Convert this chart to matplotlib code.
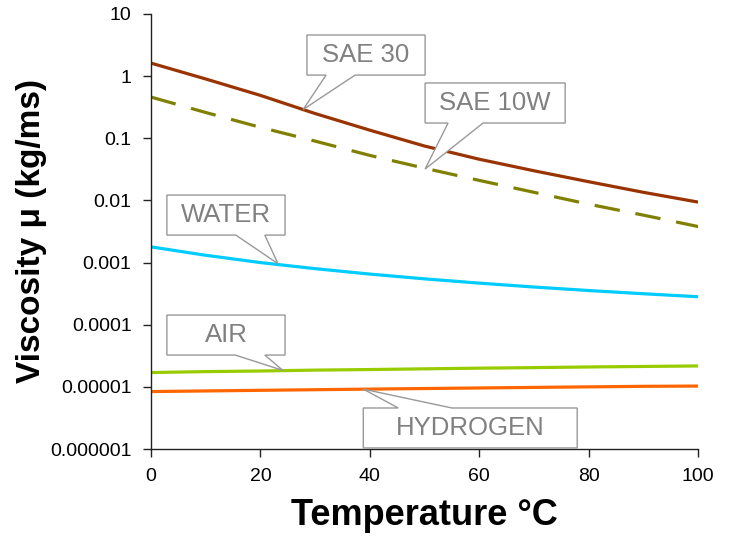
import matplotlib
matplotlib.use("Agg")
import matplotlib.pyplot as plt
from matplotlib.patches import Polygon
import numpy as np

plt.rcParams['font.family'] = ['Liberation Sans', 'DejaVu Sans']

temperature = [0, 10, 20, 30, 40, 50, 60, 70, 80, 90, 100]
sae30 = [1.62, 0.90, 0.49, 0.25, 0.135, 0.075, 0.046, 0.030, 0.020, 0.0135, 0.0094]
sae10w = [0.46, 0.26, 0.15, 0.09, 0.053, 0.033, 0.021, 0.0135, 0.0087, 0.0058, 0.0038]
water = [1.79e-3, 1.31e-3, 1.0e-3, 7.98e-4, 6.53e-4, 5.47e-4, 4.67e-4, 4.04e-4, 3.55e-4, 3.15e-4, 2.82e-4]
air = [1.70e-5, 1.76e-5, 1.80e-5, 1.86e-5, 1.90e-5, 1.95e-5, 2.00e-5, 2.04e-5, 2.09e-5, 2.13e-5, 2.17e-5]
hydrogen = [8.4e-6, 8.6e-6, 8.8e-6, 9.0e-6, 9.2e-6, 9.4e-6, 9.6e-6, 9.8e-6, 10.0e-6, 10.2e-6, 10.3e-6]

x_ticks = [0, 20, 40, 60, 80, 100]
y_ticks = [10, 1, 0.1, 0.01, 0.001, 0.0001, 0.00001, 0.000001]
y_tick_labels = ['10', '1', '0.1', '0.01', '0.001', '0.0001', '0.00001', '0.000001']

fig = plt.figure(figsize=(7.31, 5.36), dpi=100)
ax = fig.add_axes([0.2066, 0.1623, 0.7484, 0.8116])

ax.plot(temperature, sae30, color='#993300', lw=2.3, solid_capstyle='butt')
ax.plot(temperature, sae10w, color='#808000', lw=2.3, dashes=(8, 5))
ax.plot(temperature, water, color='#00CCFF', lw=2.3)
ax.plot(temperature, air, color='#99CC00', lw=2.3)
ax.plot(temperature, hydrogen, color='#FF6600', lw=2.3)

ax.set_yscale('log')
ax.set_xlim(0, 100)
ax.set_ylim(1e-6, 10)
ax.set_xticks(x_ticks)
ax.set_xticklabels([str(t) for t in x_ticks])
ax.set_yticks(y_ticks)
ax.set_yticklabels(y_tick_labels)
ax.minorticks_off()
ax.tick_params(axis='both', labelsize=14, direction='out', length=6, width=1, color='#222222', pad=8)
for s in ['top', 'right']:
    ax.spines[s].set_visible(False)
for s in ['left', 'bottom']:
    ax.spines[s].set_color('#222222')
    ax.spines[s].set_linewidth(1)

ax.set_xlabel('Temperature °C', fontsize=26, fontweight='bold', labelpad=9)
ax.set_ylabel('Viscosity μ (kg/ms)', fontsize=24, fontweight='bold', labelpad=2)


def callout(label, x0, x1, y0, y1, base0, base1, tip, bottom_tail=True):
    # box corners in data coords (x in °C, y in viscosity); tail on bottom or top edge
    if bottom_tail:
        verts = [(x0, y1), (x1, y1), (x1, y0), (base1, y0), tip, (base0, y0), (x0, y0)]
    else:
        verts = [(x0, y0), (base0, y0), tip, (base1, y0), (x1, y0), (x1, y1), (x0, y1)]
    poly = Polygon(verts, closed=True, facecolor='white', edgecolor='#999999', lw=1, zorder=5)
    ax.add_patch(poly)
    ym = 10 ** ((np.log10(y0) + np.log10(y1)) / 2)
    ax.text((x0 + x1) / 2, ym, label, ha='center', va='center', fontsize=18.5,
            color='#808080', zorder=6)


callout('SAE 30', 28.5, 50.1, 1.04, 4.59, 32.0, 37.3, (27.8, 0.29))
callout('SAE 10W', 50.1, 75.7, 0.176, 0.776, 54.3, 60.7, (50.1, 0.032))
callout('WATER', 2.9, 24.5, 0.00277, 0.0122, 15.5, 20.8, (23.2, 0.00096))
callout('AIR', 2.9, 24.5, 3.25e-5, 1.43e-4, 15.4, 20.8, (24.1, 1.84e-5))
callout('HYDROGEN', 38.8, 77.9, 4.57e-6, 1.04e-6, 45.2, 55.0, (38.8, 9.2e-6), bottom_tail=False)

fig.savefig('out.png', dpi=100)
